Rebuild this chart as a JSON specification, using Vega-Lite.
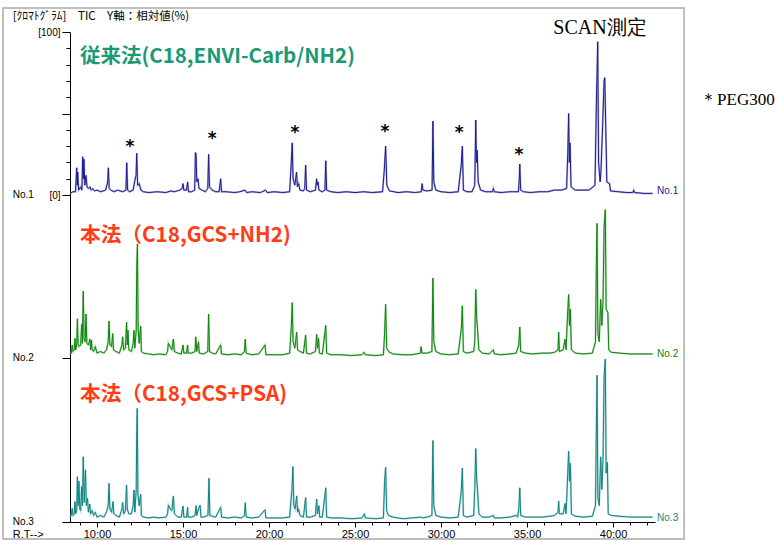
{
 "$schema": "https://vega.github.io/schema/vega-lite/v6.json",
 "width": 585, "height": 490,
 "autosize": {"type": "none"},
 "padding": {"left": 70, "top": 32, "right": 121, "bottom": 18},
 "background": "white",
 "config": {"view": {"stroke": null}, "axis": {"labelFont": "Liberation Sans", "grid": false}},
 "datasets": {
  "no1": [
   {"rt":8.43,"v":1},{"rt":8.6,"v":2},{"rt":8.75,"v":2},{"rt":8.82,"v":16.7},{"rt":8.85,"v":6},{"rt":8.88,"v":14},{"rt":8.93,"v":3},{"rt":9.05,"v":5},{"rt":9.12,"v":3},{"rt":9.17,"v":23.5},{"rt":9.21,"v":10},{"rt":9.24,"v":22},{"rt":9.29,"v":6},{"rt":9.36,"v":12},{"rt":9.42,"v":5},{"rt":9.5,"v":4},{"rt":9.59,"v":5},{"rt":9.66,"v":3},{"rt":9.75,"v":4},{"rt":9.85,"v":2.5},{"rt":10.0,"v":3},{"rt":10.2,"v":2},{"rt":10.5,"v":3},{"rt":10.62,"v":8},{"rt":10.66,"v":16.7},{"rt":10.71,"v":4},{"rt":10.8,"v":3},{"rt":11.0,"v":2},{"rt":11.2,"v":3},{"rt":11.5,"v":2},{"rt":11.68,"v":3},{"rt":11.73,"v":19.8},{"rt":11.78,"v":3},{"rt":11.9,"v":2},{"rt":12.1,"v":3},{"rt":12.2,"v":9},{"rt":12.27,"v":12},{"rt":12.31,"v":25.6},{"rt":12.36,"v":6},{"rt":12.45,"v":7},{"rt":12.55,"v":3},{"rt":12.7,"v":2},{"rt":13.0,"v":1.5},{"rt":13.5,"v":2},{"rt":14.0,"v":1.5},{"rt":14.3,"v":2.5},{"rt":14.5,"v":2},{"rt":14.8,"v":3},{"rt":14.95,"v":4},{"rt":15.0,"v":7},{"rt":15.05,"v":3},{"rt":15.2,"v":3},{"rt":15.27,"v":8},{"rt":15.32,"v":2},{"rt":15.5,"v":2},{"rt":15.68,"v":3},{"rt":15.72,"v":26},{"rt":15.76,"v":25},{"rt":15.8,"v":8},{"rt":15.87,"v":10},{"rt":15.93,"v":4},{"rt":16.1,"v":3},{"rt":16.3,"v":2},{"rt":16.44,"v":4},{"rt":16.49,"v":25},{"rt":16.54,"v":5},{"rt":16.7,"v":3},{"rt":16.9,"v":2},{"rt":17.1,"v":2},{"rt":17.19,"v":10},{"rt":17.24,"v":2},{"rt":17.5,"v":2},{"rt":18.0,"v":1.5},{"rt":18.3,"v":2},{"rt":18.6,"v":3},{"rt":18.7,"v":1.5},{"rt":19.0,"v":2},{"rt":19.5,"v":1.5},{"rt":19.8,"v":3},{"rt":19.9,"v":1.5},{"rt":20.3,"v":2},{"rt":20.8,"v":1.5},{"rt":21.2,"v":2},{"rt":21.3,"v":21},{"rt":21.35,"v":32},{"rt":21.4,"v":10},{"rt":21.5,"v":6},{"rt":21.6,"v":14},{"rt":21.65,"v":5},{"rt":21.72,"v":7},{"rt":21.8,"v":3},{"rt":22.0,"v":2.5},{"rt":22.08,"v":4},{"rt":22.13,"v":18.4},{"rt":22.18,"v":3},{"rt":22.4,"v":2},{"rt":22.7,"v":3},{"rt":22.77,"v":10},{"rt":22.8,"v":6},{"rt":22.85,"v":8},{"rt":22.9,"v":3},{"rt":23.1,"v":2},{"rt":23.25,"v":3},{"rt":23.3,"v":21},{"rt":23.35,"v":3},{"rt":23.6,"v":2},{"rt":24.0,"v":1.5},{"rt":24.5,"v":2},{"rt":25.0,"v":1.5},{"rt":25.5,"v":2},{"rt":26.0,"v":1.5},{"rt":26.6,"v":2},{"rt":26.7,"v":15},{"rt":26.78,"v":30},{"rt":26.85,"v":6},{"rt":27.0,"v":2.5},{"rt":27.5,"v":1.5},{"rt":28.0,"v":2},{"rt":28.5,"v":1.5},{"rt":28.85,"v":2},{"rt":28.9,"v":7},{"rt":28.95,"v":3},{"rt":29.2,"v":2.5},{"rt":29.48,"v":3},{"rt":29.53,"v":45.4},{"rt":29.58,"v":8},{"rt":29.7,"v":3},{"rt":30.0,"v":2},{"rt":30.5,"v":1.5},{"rt":31.0,"v":2},{"rt":31.18,"v":19},{"rt":31.24,"v":30},{"rt":31.3,"v":3},{"rt":31.5,"v":2},{"rt":31.8,"v":2},{"rt":31.96,"v":6},{"rt":32.02,"v":46},{"rt":32.06,"v":20},{"rt":32.1,"v":27.6},{"rt":32.16,"v":8},{"rt":32.3,"v":3},{"rt":32.6,"v":2},{"rt":33.0,"v":2},{"rt":33.04,"v":4},{"rt":33.1,"v":2},{"rt":33.5,"v":1.5},{"rt":34.0,"v":2},{"rt":34.5,"v":2},{"rt":34.55,"v":10},{"rt":34.58,"v":19},{"rt":34.63,"v":3},{"rt":34.8,"v":2},{"rt":35.2,"v":1.5},{"rt":35.7,"v":2},{"rt":36.2,"v":2},{"rt":36.6,"v":3},{"rt":37.0,"v":3},{"rt":37.3,"v":4},{"rt":37.37,"v":25.6},{"rt":37.42,"v":50},{"rt":37.46,"v":20},{"rt":37.5,"v":32},{"rt":37.56,"v":5},{"rt":37.8,"v":3},{"rt":38.2,"v":3},{"rt":38.6,"v":3},{"rt":38.95,"v":6},{"rt":39.03,"v":55},{"rt":39.11,"v":94},{"rt":39.16,"v":20},{"rt":39.25,"v":8},{"rt":39.3,"v":15},{"rt":39.4,"v":44},{"rt":39.48,"v":70},{"rt":39.52,"v":72},{"rt":39.58,"v":40},{"rt":39.64,"v":8},{"rt":39.8,"v":7},{"rt":39.85,"v":2.5},{"rt":40.3,"v":2},{"rt":40.8,"v":1.5},{"rt":41.15,"v":1.5},{"rt":41.2,"v":3},{"rt":41.25,"v":1.5},{"rt":41.8,"v":1},{"rt":42.3,"v":1}
  ],
  "no2": [
   {"rt":8.43,"v":2},{"rt":8.5,"v":3},{"rt":8.56,"v":8},{"rt":8.6,"v":4},{"rt":8.68,"v":5},{"rt":8.72,"v":12},{"rt":8.76,"v":5},{"rt":8.82,"v":8},{"rt":8.86,"v":24},{"rt":8.9,"v":9},{"rt":8.96,"v":7},{"rt":9.05,"v":8},{"rt":9.11,"v":20.7},{"rt":9.15,"v":9},{"rt":9.2,"v":41},{"rt":9.25,"v":12},{"rt":9.31,"v":10},{"rt":9.36,"v":27},{"rt":9.41,"v":9},{"rt":9.5,"v":8},{"rt":9.59,"v":11.6},{"rt":9.63,"v":5},{"rt":9.68,"v":11},{"rt":9.72,"v":5},{"rt":9.8,"v":4},{"rt":9.9,"v":7},{"rt":10.0,"v":3},{"rt":10.2,"v":4},{"rt":10.4,"v":3},{"rt":10.55,"v":5},{"rt":10.65,"v":10},{"rt":10.7,"v":22.7},{"rt":10.75,"v":8},{"rt":10.85,"v":7},{"rt":10.91,"v":15},{"rt":10.96,"v":5},{"rt":11.1,"v":4},{"rt":11.3,"v":3},{"rt":11.45,"v":8},{"rt":11.49,"v":13},{"rt":11.55,"v":5},{"rt":11.65,"v":6},{"rt":11.72,"v":22},{"rt":11.76,"v":8},{"rt":11.8,"v":17},{"rt":11.85,"v":5},{"rt":12.0,"v":4},{"rt":12.1,"v":9},{"rt":12.15,"v":17},{"rt":12.2,"v":6},{"rt":12.28,"v":17},{"rt":12.31,"v":55},{"rt":12.35,"v":70},{"rt":12.39,"v":18},{"rt":12.45,"v":9},{"rt":12.54,"v":19.6},{"rt":12.58,"v":4},{"rt":12.7,"v":3},{"rt":13.0,"v":2.5},{"rt":13.3,"v":2},{"rt":13.6,"v":2.5},{"rt":14.0,"v":2},{"rt":14.1,"v":4},{"rt":14.15,"v":9},{"rt":14.25,"v":7},{"rt":14.35,"v":5},{"rt":14.44,"v":11.6},{"rt":14.5,"v":4},{"rt":14.7,"v":3},{"rt":14.9,"v":2.5},{"rt":15.0,"v":8},{"rt":15.05,"v":3},{"rt":15.2,"v":3},{"rt":15.27,"v":8},{"rt":15.3,"v":3},{"rt":15.5,"v":3},{"rt":15.7,"v":4},{"rt":15.74,"v":13},{"rt":15.8,"v":4},{"rt":15.9,"v":10},{"rt":15.95,"v":3},{"rt":16.2,"v":2.5},{"rt":16.44,"v":4},{"rt":16.49,"v":27},{"rt":16.54,"v":4},{"rt":16.7,"v":3},{"rt":16.9,"v":2.5},{"rt":17.19,"v":8},{"rt":17.24,"v":2.5},{"rt":17.6,"v":2},{"rt":18.0,"v":2.5},{"rt":18.4,"v":2},{"rt":18.57,"v":4},{"rt":18.62,"v":11.6},{"rt":18.67,"v":3},{"rt":19.0,"v":2},{"rt":19.4,"v":2.5},{"rt":19.77,"v":8},{"rt":19.82,"v":2},{"rt":20.2,"v":2},{"rt":20.8,"v":2},{"rt":21.2,"v":3},{"rt":21.3,"v":20},{"rt":21.35,"v":34},{"rt":21.4,"v":10},{"rt":21.5,"v":6},{"rt":21.61,"v":15.8},{"rt":21.66,"v":5},{"rt":21.8,"v":4},{"rt":22.0,"v":3},{"rt":22.13,"v":14},{"rt":22.18,"v":3},{"rt":22.4,"v":2.5},{"rt":22.7,"v":4},{"rt":22.77,"v":14.5},{"rt":22.82,"v":6},{"rt":22.88,"v":12},{"rt":22.93,"v":3},{"rt":23.1,"v":2.5},{"rt":23.3,"v":20},{"rt":23.35,"v":3},{"rt":23.6,"v":2},{"rt":24.2,"v":2},{"rt":24.8,"v":1.5},{"rt":25.4,"v":2},{"rt":25.53,"v":3.5},{"rt":25.6,"v":2},{"rt":26.2,"v":1.5},{"rt":26.65,"v":2},{"rt":26.72,"v":15},{"rt":26.78,"v":33},{"rt":26.84,"v":6},{"rt":26.95,"v":4},{"rt":27.2,"v":2.5},{"rt":27.8,"v":2},{"rt":28.3,"v":2},{"rt":28.8,"v":3},{"rt":28.84,"v":7},{"rt":28.9,"v":3},{"rt":29.2,"v":3},{"rt":29.47,"v":4},{"rt":29.53,"v":49},{"rt":29.58,"v":10},{"rt":29.7,"v":4},{"rt":30.0,"v":2.5},{"rt":30.5,"v":2},{"rt":31.0,"v":2.5},{"rt":31.18,"v":18},{"rt":31.24,"v":32},{"rt":31.3,"v":4},{"rt":31.5,"v":3},{"rt":31.9,"v":4},{"rt":31.96,"v":10},{"rt":32.02,"v":42},{"rt":32.07,"v":25},{"rt":32.12,"v":18},{"rt":32.2,"v":5},{"rt":32.4,"v":3},{"rt":32.8,"v":2.5},{"rt":33.04,"v":5},{"rt":33.1,"v":2.5},{"rt":33.5,"v":2},{"rt":34.0,"v":2.5},{"rt":34.37,"v":3},{"rt":34.52,"v":8},{"rt":34.58,"v":19},{"rt":34.63,"v":4},{"rt":34.9,"v":3},{"rt":35.3,"v":2.5},{"rt":35.9,"v":3},{"rt":36.3,"v":3},{"rt":36.6,"v":3.5},{"rt":36.8,"v":5},{"rt":36.84,"v":15.8},{"rt":36.88,"v":4},{"rt":37.1,"v":5},{"rt":37.21,"v":11.5},{"rt":37.27,"v":5},{"rt":37.35,"v":25},{"rt":37.42,"v":39},{"rt":37.47,"v":20},{"rt":37.52,"v":30},{"rt":37.58,"v":5},{"rt":37.8,"v":3},{"rt":38.3,"v":2.5},{"rt":38.8,"v":3},{"rt":38.98,"v":10},{"rt":39.03,"v":56},{"rt":39.07,"v":82.6},{"rt":39.12,"v":15},{"rt":39.2,"v":10},{"rt":39.28,"v":36},{"rt":39.35,"v":20},{"rt":39.42,"v":36},{"rt":39.48,"v":80},{"rt":39.55,"v":91},{"rt":39.6,"v":30},{"rt":39.7,"v":28},{"rt":39.75,"v":5},{"rt":39.9,"v":3.5},{"rt":40.4,"v":3},{"rt":41.0,"v":2.5},{"rt":41.5,"v":2.5},{"rt":42.3,"v":2.5}
  ],
  "no3": [
   {"rt":8.43,"v":3},{"rt":8.5,"v":4},{"rt":8.56,"v":8.4},{"rt":8.6,"v":4},{"rt":8.68,"v":5},{"rt":8.72,"v":12.5},{"rt":8.76,"v":5},{"rt":8.82,"v":7},{"rt":8.86,"v":27.8},{"rt":8.9,"v":10},{"rt":8.95,"v":25},{"rt":9.0,"v":8},{"rt":9.05,"v":7},{"rt":9.11,"v":21.7},{"rt":9.15,"v":10},{"rt":9.2,"v":40},{"rt":9.26,"v":12},{"rt":9.33,"v":32},{"rt":9.38,"v":10},{"rt":9.45,"v":14.5},{"rt":9.5,"v":6},{"rt":9.58,"v":11},{"rt":9.62,"v":5},{"rt":9.72,"v":7},{"rt":9.8,"v":4},{"rt":9.9,"v":6},{"rt":10.0,"v":3},{"rt":10.2,"v":4},{"rt":10.4,"v":3},{"rt":10.55,"v":6},{"rt":10.65,"v":10},{"rt":10.7,"v":23.7},{"rt":10.75,"v":8},{"rt":10.85,"v":6},{"rt":10.93,"v":12.5},{"rt":10.98,"v":5},{"rt":11.1,"v":4},{"rt":11.3,"v":3},{"rt":11.45,"v":8},{"rt":11.49,"v":12},{"rt":11.55,"v":5},{"rt":11.65,"v":7},{"rt":11.72,"v":22.7},{"rt":11.76,"v":8},{"rt":11.85,"v":5},{"rt":12.0,"v":5},{"rt":12.1,"v":10},{"rt":12.15,"v":19.6},{"rt":12.2,"v":6},{"rt":12.28,"v":20},{"rt":12.31,"v":56},{"rt":12.34,"v":69.7},{"rt":12.38,"v":17},{"rt":12.45,"v":10},{"rt":12.54,"v":17},{"rt":12.58,"v":4},{"rt":12.7,"v":3},{"rt":13.0,"v":2.5},{"rt":13.3,"v":3},{"rt":13.6,"v":2.5},{"rt":14.0,"v":3},{"rt":14.1,"v":5},{"rt":14.15,"v":10.4},{"rt":14.25,"v":8},{"rt":14.35,"v":7},{"rt":14.44,"v":16},{"rt":14.5,"v":5},{"rt":14.7,"v":3},{"rt":14.9,"v":3},{"rt":15.0,"v":9.8},{"rt":15.05,"v":3},{"rt":15.2,"v":3},{"rt":15.27,"v":9},{"rt":15.3,"v":3},{"rt":15.5,"v":3},{"rt":15.7,"v":4},{"rt":15.76,"v":10},{"rt":15.8,"v":4},{"rt":15.9,"v":8},{"rt":15.99,"v":10.4},{"rt":16.05,"v":3},{"rt":16.2,"v":3},{"rt":16.45,"v":4},{"rt":16.51,"v":26.8},{"rt":16.56,"v":4},{"rt":16.7,"v":3.5},{"rt":16.9,"v":3},{"rt":17.19,"v":9},{"rt":17.24,"v":3},{"rt":17.6,"v":2.5},{"rt":18.0,"v":3},{"rt":18.4,"v":2.5},{"rt":18.57,"v":4},{"rt":18.62,"v":11.8},{"rt":18.67,"v":3},{"rt":19.0,"v":2.5},{"rt":19.4,"v":3},{"rt":19.77,"v":7.5},{"rt":19.82,"v":2.5},{"rt":20.2,"v":2.5},{"rt":20.8,"v":2.5},{"rt":21.2,"v":3},{"rt":21.33,"v":20},{"rt":21.39,"v":34},{"rt":21.44,"v":10},{"rt":21.52,"v":8},{"rt":21.61,"v":16},{"rt":21.66,"v":6},{"rt":21.72,"v":8},{"rt":21.8,"v":4},{"rt":22.0,"v":3},{"rt":22.13,"v":15},{"rt":22.18,"v":3},{"rt":22.4,"v":3},{"rt":22.7,"v":4},{"rt":22.77,"v":14},{"rt":22.82,"v":5},{"rt":22.9,"v":10},{"rt":22.95,"v":3},{"rt":23.1,"v":3},{"rt":23.3,"v":21},{"rt":23.35,"v":3},{"rt":23.6,"v":2.5},{"rt":24.2,"v":2.5},{"rt":24.8,"v":2},{"rt":25.4,"v":2.5},{"rt":25.55,"v":5},{"rt":25.6,"v":2.5},{"rt":26.2,"v":2},{"rt":26.65,"v":2.5},{"rt":26.72,"v":25},{"rt":26.78,"v":33.5},{"rt":26.84,"v":7},{"rt":26.95,"v":4},{"rt":27.2,"v":3},{"rt":27.8,"v":2},{"rt":28.3,"v":2.5},{"rt":28.84,"v":3},{"rt":28.9,"v":2.5},{"rt":29.2,"v":3},{"rt":29.47,"v":4},{"rt":29.53,"v":50},{"rt":29.58,"v":10},{"rt":29.7,"v":4},{"rt":30.0,"v":3},{"rt":30.5,"v":2.5},{"rt":31.0,"v":3},{"rt":31.17,"v":18},{"rt":31.24,"v":33},{"rt":31.3,"v":4},{"rt":31.5,"v":3},{"rt":31.9,"v":4},{"rt":31.96,"v":20},{"rt":32.02,"v":45},{"rt":32.07,"v":27},{"rt":32.12,"v":20},{"rt":32.2,"v":5},{"rt":32.4,"v":3},{"rt":32.8,"v":3},{"rt":33.04,"v":4},{"rt":33.1,"v":2.5},{"rt":33.5,"v":2.5},{"rt":34.0,"v":3},{"rt":34.37,"v":4},{"rt":34.45,"v":3},{"rt":34.52,"v":8},{"rt":34.58,"v":21},{"rt":34.63,"v":4},{"rt":34.9,"v":3},{"rt":35.3,"v":3},{"rt":35.9,"v":3},{"rt":36.3,"v":3.5},{"rt":36.6,"v":4},{"rt":36.8,"v":6},{"rt":36.84,"v":12.9},{"rt":36.88,"v":5},{"rt":37.1,"v":5},{"rt":37.21,"v":11.4},{"rt":37.27,"v":5},{"rt":37.35,"v":25},{"rt":37.42,"v":43.5},{"rt":37.47,"v":25},{"rt":37.52,"v":36},{"rt":37.58,"v":5},{"rt":37.8,"v":3.5},{"rt":38.3,"v":3},{"rt":38.8,"v":3.5},{"rt":38.98,"v":10},{"rt":39.03,"v":57},{"rt":39.07,"v":90},{"rt":39.12,"v":15},{"rt":39.2,"v":10},{"rt":39.28,"v":40},{"rt":39.35,"v":20},{"rt":39.42,"v":40},{"rt":39.48,"v":89},{"rt":39.55,"v":100},{"rt":39.6,"v":30},{"rt":39.67,"v":36.6},{"rt":39.72,"v":5},{"rt":39.9,"v":4},{"rt":40.4,"v":3.5},{"rt":41.0,"v":3},{"rt":41.5,"v":3},{"rt":42.3,"v":3}
  ],
  "peg": [
   {"rt":11.92,"v":31.9},{"rt":16.69,"v":36.8},{"rt":21.51,"v":40.5},{"rt":26.74,"v":41.1},{"rt":31.05,"v":40.5},{"rt":34.53,"v":27}
  ]
 },
 "layer": [
  {"data": {"values": [{}]}, "mark": {"type": "rect", "fillOpacity": 0, "stroke": "#ababab", "strokeWidth": 1.5},
   "encoding": {"x": {"datum": 4.535, "scale": {"domain": [8.43, 42.44], "nice": false, "zero": false}, "axis": null}, "x2": {"datum": 44.13},
                "y": {"datum": 114.7, "scale": {"domain": [-200.6, 100], "nice": false, "zero": false}, "axis": null}, "y2": {"datum": -211}}},
  {"data": {"name": "no1"}, "mark": {"type": "line", "color": "#7f7fc4", "strokeWidth": 2, "opacity": 0.55},
   "encoding": {"x": {"field": "rt", "type": "quantitative", "scale": {"domain": [8.43, 42.44], "nice": false, "zero": false}, "axis": null},
                "y": {"field": "v", "type": "quantitative", "scale": {"domain": [-200.6, 100], "nice": false, "zero": false}, "axis": null}}},
  {"data": {"name": "no2"}, "mark": {"type": "line", "color": "#7cbf7c", "strokeWidth": 2, "opacity": 0.55},
   "encoding": {"x": {"field": "rt", "type": "quantitative", "scale": {"domain": [8.43, 42.44], "nice": false, "zero": false}, "axis": null},
                "y": {"field": "v", "type": "quantitative", "scale": {"domain": [-100.6, 200], "nice": false, "zero": false}, "axis": null}}},
  {"data": {"name": "no3"}, "mark": {"type": "line", "color": "#7cbfbf", "strokeWidth": 2, "opacity": 0.55},
   "encoding": {"x": {"field": "rt", "type": "quantitative", "scale": {"domain": [8.43, 42.44], "nice": false, "zero": false}, "axis": null},
                "y": {"field": "v", "type": "quantitative", "scale": {"domain": [0, 300.6], "nice": false, "zero": false}, "axis": null}}},
  {"data": {"name": "no1"}, "mark": {"type": "line", "color": "#1c1c8e", "strokeWidth": 1},
   "encoding": {"x": {"field": "rt", "type": "quantitative", "scale": {"domain": [8.43, 42.44], "nice": false, "zero": false}, "axis": null},
                "y": {"field": "v", "type": "quantitative", "scale": {"domain": [-200.6, 100], "nice": false, "zero": false},
                      "axis": {"orient": "left", "values": [0,10,20,30,40,50,60,70,80,90,100], "tickSize": {"condition": {"test": "datum.value % 50 === 0", "value": 8}, "value": 4},
                               "labelExpr": "datum.value === 100 ? '[100]' : (datum.value === 0 ? '[0]' : '')", "labelFontSize": 10, "labelPadding": 2, "labelOverlap": false, "labelColor": "#000",
                               "title": null, "domainColor": "#000", "tickColor": "#000"}}}},
  {"data": {"name": "no2"}, "mark": {"type": "line", "color": "#0c840c", "strokeWidth": 1},
   "encoding": {"x": {"field": "rt", "type": "quantitative", "scale": {"domain": [8.43, 42.44], "nice": false, "zero": false}, "axis": null},
                "y": {"field": "v", "type": "quantitative", "scale": {"domain": [-100.6, 200], "nice": false, "zero": false},
                      "axis": {"orient": "left", "values": [0], "tickSize": 8, "labels": false, "domain": false, "title": null, "tickColor": "#000"}}}},
  {"data": {"name": "no3"}, "mark": {"type": "line", "color": "#128282", "strokeWidth": 1},
   "encoding": {"x": {"field": "rt", "type": "quantitative", "scale": {"domain": [8.43, 42.44], "nice": false, "zero": false},
                      "axis": {"orient": "bottom", "values": [9,10,11,12,13,14,15,16,17,18,19,20,21,22,23,24,25,26,27,28,29,30,31,32,33,34,35,36,37,38,39,40,41,42],
                               "tickSize": {"condition": {"test": "datum.value % 5 === 0", "value": 5}, "value": 3},
                               "labelExpr": "datum.value % 5 === 0 ? datum.value + ':00' : ''", "labelFontSize": 11, "labelPadding": 1, "labelOverlap": false, "labelFlush": false,
                               "labelColor": "#000", "title": null, "domainColor": "#000", "tickColor": "#000"}},
                "y": {"field": "v", "type": "quantitative", "scale": {"domain": [0, 300.6], "nice": false, "zero": false},
                      "axis": {"orient": "left", "values": [0], "tickSize": 8, "labels": false, "domain": false, "title": null, "tickColor": "#000"}}}},
  {"data": {"name": "peg"}, "mark": {"type": "text", "text": "*", "font": "DejaVu Sans", "fontWeight": "bold", "fontSize": 17, "baseline": "alphabetic", "dy": 9, "color": "#000"},
   "encoding": {"x": {"field": "rt", "type": "quantitative", "scale": {"domain": [8.43, 42.44], "nice": false, "zero": false}, "axis": null},
                "y": {"field": "v", "type": "quantitative", "scale": {"domain": [-200.6, 100], "nice": false, "zero": false}, "axis": null}}},
  {"data": {"values": [{}]}, "mark": {"type": "text", "text": "従来法(C18,ENVI-Carb/NH2)", "font": "Noto Sans CJK JP", "fontWeight": "bold", "fontSize": 20.5, "align": "left", "baseline": "middle", "color": "#1a9a74"},
   "encoding": {"x": {"datum": 9.01, "scale": {"domain": [8.43, 42.44], "nice": false, "zero": false}, "axis": null}, "y": {"datum": 84.7, "scale": {"domain": [-200.6, 100], "nice": false, "zero": false}, "axis": null}}},
  {"data": {"values": [{}]}, "mark": {"type": "text", "text": "SCAN測定", "font": "Liberation Serif", "fontSize": 20, "align": "center", "baseline": "middle", "color": "#000"},
   "encoding": {"x": {"datum": 39.24, "scale": {"domain": [8.43, 42.44], "nice": false, "zero": false}, "axis": null}, "y": {"datum": 102.5, "scale": {"domain": [-200.6, 100], "nice": false, "zero": false}, "axis": null}}},
  {"data": {"values": [{}]}, "mark": {"type": "text", "text": "＊PEG300", "font": "Liberation Serif", "fontSize": 17, "align": "left", "baseline": "middle", "color": "#000"},
   "encoding": {"x": {"datum": 45.06, "scale": {"domain": [8.43, 42.44], "nice": false, "zero": false}, "axis": null}, "y": {"datum": 58.3, "scale": {"domain": [-200.6, 100], "nice": false, "zero": false}, "axis": null}}},
  {"data": {"values": [{}]}, "mark": {"type": "text", "text": "[ｸﾛﾏﾄｸﾞﾗﾑ]　TIC　Y軸：相対値(%)", "font": "Noto Sans CJK JP", "fontSize": 11.5, "align": "left", "baseline": "middle", "color": "#000"},
   "encoding": {"x": {"datum": 5.1, "scale": {"domain": [8.43, 42.44], "nice": false, "zero": false}, "axis": null}, "y": {"datum": 109.2, "scale": {"domain": [-200.6, 100], "nice": false, "zero": false}, "axis": null}}},
  {"data": {"values": [{}]}, "mark": {"type": "text", "text": "No.1", "font": "Liberation Sans", "fontSize": 10, "align": "left", "baseline": "middle", "color": "#000"},
   "encoding": {"x": {"datum": 5.1, "scale": {"domain": [8.43, 42.44], "nice": false, "zero": false}, "axis": null}, "y": {"datum": 0, "scale": {"domain": [-200.6, 100], "nice": false, "zero": false}, "axis": null}}},
  {"data": {"values": [{}]}, "mark": {"type": "text", "text": "No.1", "font": "Liberation Sans", "fontSize": 10, "align": "left", "baseline": "middle", "color": "#1c1c8e"},
   "encoding": {"x": {"datum": 42.56, "scale": {"domain": [8.43, 42.44], "nice": false, "zero": false}, "axis": null}, "y": {"datum": 2.5, "scale": {"domain": [-200.6, 100], "nice": false, "zero": false}, "axis": null}}},
  {"data": {"values": [{}]}, "mark": {"type": "text", "text": "本法（C18,GCS+NH2)", "font": "Noto Sans CJK JP", "fontWeight": "bold", "fontSize": 20.7, "align": "left", "baseline": "middle", "color": "#ff3c14"},
   "encoding": {"x": {"datum": 9.01, "scale": {"domain": [8.43, 42.44], "nice": false, "zero": false}, "axis": null}, "y": {"datum": 74.8, "scale": {"domain": [-100.6, 200], "nice": false, "zero": false}, "axis": null}}},
  {"data": {"values": [{}]}, "mark": {"type": "text", "text": "No.2", "font": "Liberation Sans", "fontSize": 10, "align": "left", "baseline": "middle", "color": "#000"},
   "encoding": {"x": {"datum": 5.1, "scale": {"domain": [8.43, 42.44], "nice": false, "zero": false}, "axis": null}, "y": {"datum": 0, "scale": {"domain": [-100.6, 200], "nice": false, "zero": false}, "axis": null}}},
  {"data": {"values": [{}]}, "mark": {"type": "text", "text": "No.2", "font": "Liberation Sans", "fontSize": 10, "align": "left", "baseline": "middle", "color": "#0c840c"},
   "encoding": {"x": {"datum": 42.56, "scale": {"domain": [8.43, 42.44], "nice": false, "zero": false}, "axis": null}, "y": {"datum": 2.5, "scale": {"domain": [-100.6, 200], "nice": false, "zero": false}, "axis": null}}},
  {"data": {"values": [{}]}, "mark": {"type": "text", "text": "本法（C18,GCS+PSA)", "font": "Noto Sans CJK JP", "fontWeight": "bold", "fontSize": 20.7, "align": "left", "baseline": "middle", "color": "#ff3c14"},
   "encoding": {"x": {"datum": 9.01, "scale": {"domain": [8.43, 42.44], "nice": false, "zero": false}, "axis": null}, "y": {"datum": 77.9, "scale": {"domain": [0, 300.6], "nice": false, "zero": false}, "axis": null}}},
  {"data": {"values": [{}]}, "mark": {"type": "text", "text": "No.3", "font": "Liberation Sans", "fontSize": 10, "align": "left", "baseline": "middle", "color": "#000"},
   "encoding": {"x": {"datum": 5.1, "scale": {"domain": [8.43, 42.44], "nice": false, "zero": false}, "axis": null}, "y": {"datum": 0, "scale": {"domain": [0, 300.6], "nice": false, "zero": false}, "axis": null}}},
  {"data": {"values": [{}]}, "mark": {"type": "text", "text": "R.T-->", "font": "Liberation Sans", "fontSize": 11, "align": "left", "baseline": "middle", "color": "#000"},
   "encoding": {"x": {"datum": 5.1, "scale": {"domain": [8.43, 42.44], "nice": false, "zero": false}, "axis": null}, "y": {"datum": -8, "scale": {"domain": [0, 300.6], "nice": false, "zero": false}, "axis": null}}},
  {"data": {"values": [{}]}, "mark": {"type": "text", "text": "No.3", "font": "Liberation Sans", "fontSize": 10, "align": "left", "baseline": "middle", "color": "#128282"},
   "encoding": {"x": {"datum": 42.56, "scale": {"domain": [8.43, 42.44], "nice": false, "zero": false}, "axis": null}, "y": {"datum": 2.5, "scale": {"domain": [0, 300.6], "nice": false, "zero": false}, "axis": null}}}
 ],
 "resolve": {"scale": {"x": "independent", "y": "independent"}, "axis": {"x": "independent", "y": "independent"}}
}
